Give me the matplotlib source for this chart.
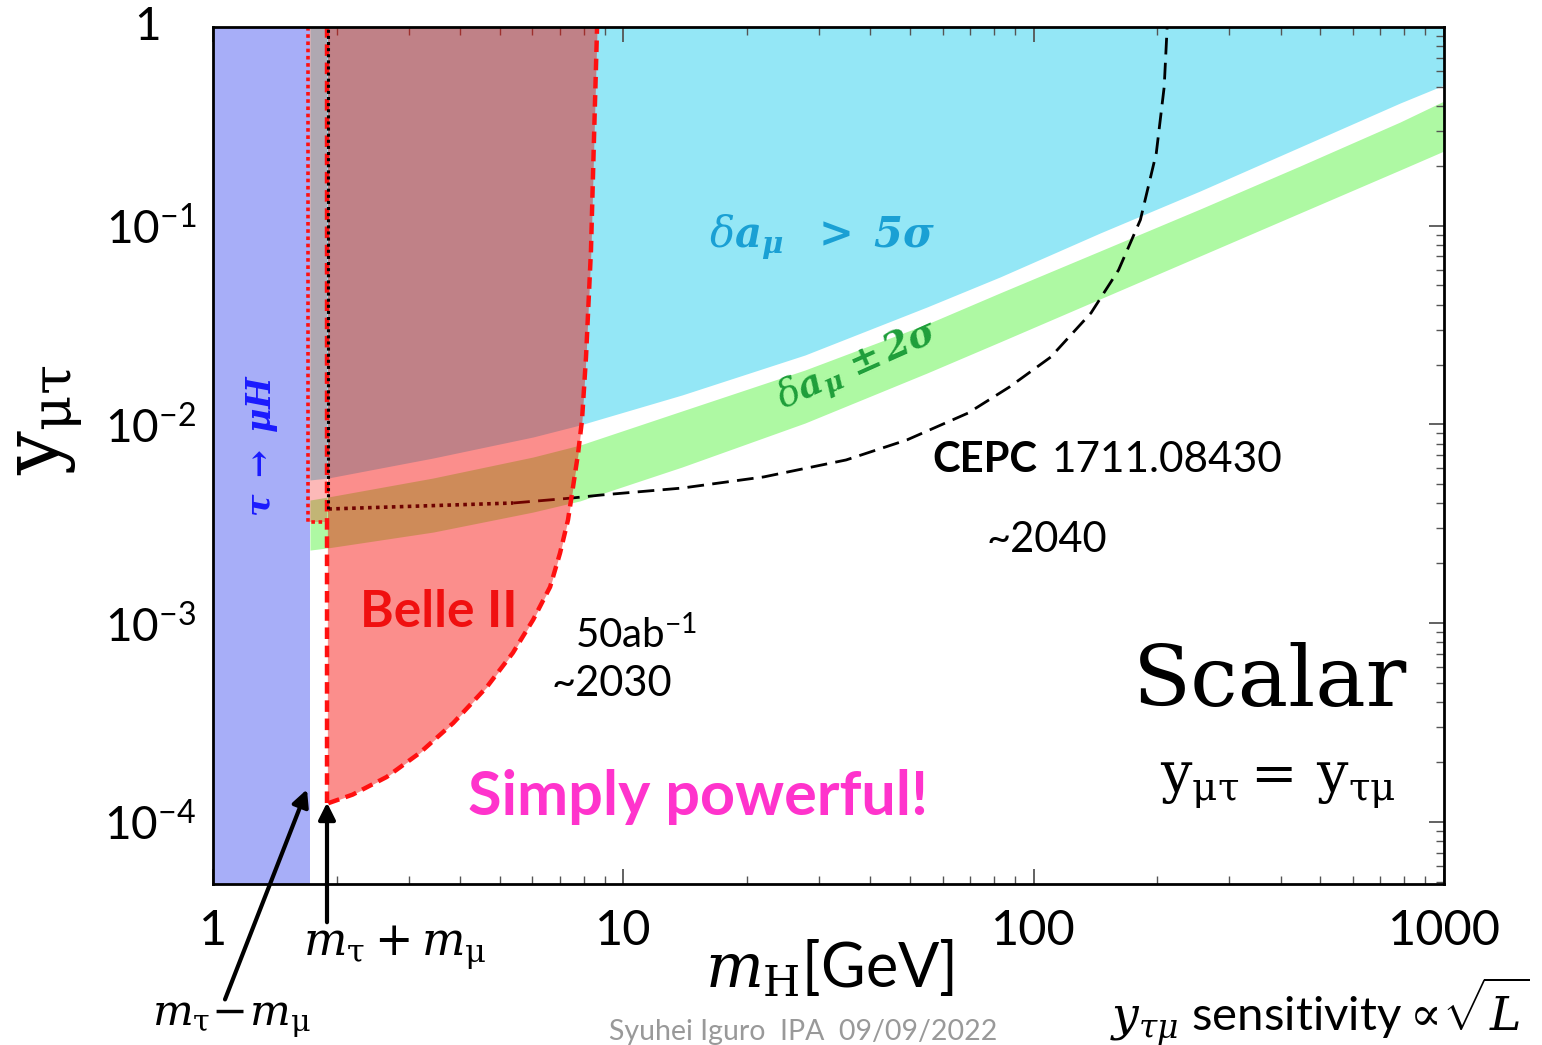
import matplotlib
matplotlib.use("Agg")
import matplotlib.pyplot as plt

plt.rcParams['mathtext.fontset'] = 'custom'
plt.rcParams['mathtext.rm'] = 'DejaVu Serif'
plt.rcParams['mathtext.it'] = 'DejaVu Serif:italic'
plt.rcParams['mathtext.bf'] = 'DejaVu Serif:bold:italic'
plt.rcParams['mathtext.sf'] = 'Lato'
plt.rcParams['font.family'] = ['Lato', 'DejaVu Sans']

# ---------------- data ----------------
x_ticks = [1, 10, 100, 1000]
x_tick_labels = ['1', '10', '100', '1000']
y_ticks = [1e-4, 1e-3, 1e-2, 1e-1]
y_tick_labels = [r'$\mathsf{10^{-4}}$', r'$\mathsf{10^{-3}}$', r'$\mathsf{10^{-2}}$', r'$\mathsf{10^{-1}}$']

tau_muH_limit = 1.72          # m_tau - m_mu  (blue region edge)
belle_threshold = 1.90        # m_tau + m_mu
strip_left = 1.70
strip_bottom = 3.23e-3

mass_grid = [1.723, 1.907, 3.438, 6.025, 7.844, 13.90, 27.72, 54.99, 82.8, 145.2, 254.4, 446.0, 781.7, 1000]
g2_5sigma_lower = [5.25e-3, 5.37e-3, 6.77e-3, 8.64e-3, 9.93e-3, 0.01406, 0.02235, 0.0390, 0.0552, 0.0919,
                   0.1495, 0.2489, 0.4144, 0.5105]
g2_2sigma_upper = [4.16e-3, 4.31e-3, 5.37e-3, 6.85e-3, 7.87e-3, 0.01168, 0.01878, 0.0320, 0.0459, 0.0746,
                   0.1213, 0.1998, 0.3325, 0.4242]
g2_2sigma_lower = [2.33e-3, 2.39e-3, 2.87e-3, 3.62e-3, 4.12e-3, 6.10e-3, 0.01016, 0.01814, 0.0260, 0.0428,
                   0.0704, 0.1159, 0.1907, 0.2377]

belle_y = [1.24e-4, 1.37e-4, 1.68e-4, 2.22e-4, 3.14e-4, 4.77e-4, 7.08e-4, 1.04e-3, 1.52e-3, 2.25e-3,
           3.30e-3, 4.84e-3, 7.18e-3, 1.05e-2, 0.0218, 0.0755, 0.27, 1.0]
belle_x = [1.91, 2.19, 2.65, 3.19, 3.85, 4.65, 5.38, 6.03, 6.63, 7.01,
           7.33, 7.54, 7.76, 7.93, 8.11, 8.34, 8.48, 8.63]

cepc_flat_x = [1.91, 5.39]
cepc_flat_y = [3.75e-3, 4.02e-3]
cepc_x = [5.39, 7.50, 8.83, 13.9, 22.0, 34.9, 49.1, 69.2, 87.2, 110, 138, 161, 182, 199, 208, 211.5]
cepc_y = [4.02e-3, 4.26e-3, 4.41e-3, 4.78e-3, 5.44e-3, 6.62e-3, 8.35e-3, 0.0114, 0.0154, 0.0218,
          0.0364, 0.0598, 0.107, 0.232, 0.499, 1.0]

# ---------------- figure ----------------
W, H = 1542, 1045
fig = plt.figure(figsize=(W / 100, H / 100), dpi=100)
L, R, T, B = 213, 1444, 27, 884
ax = fig.add_axes([L / W, 1 - B / H, (R - L) / W, (B - T) / H])
ax.set_xscale('log')
ax.set_yscale('log')
ax.set_xlim(1, 1000)
ax.set_ylim(4.86e-5, 1)

red = '#f70500'
ax.fill_between(mass_grid, g2_5sigma_lower, 1.0, color='#94e7f6', lw=0, zorder=1)
ax.fill_between(mass_grid, g2_2sigma_lower, g2_2sigma_upper, color='#aef9a3', lw=0, zorder=1)
ax.plot(cepc_flat_x, cepc_flat_y, color='black', lw=2.6, ls=(0, (1, 1.2)), zorder=2)
ax.plot(cepc_x, cepc_y, color='black', lw=2.0, ls=(0, (6, 3)), zorder=2)
ax.fill_between([strip_left, belle_threshold], strip_bottom, 1.0, color=red, alpha=0.28, lw=0, zorder=3)
ax.fill_betweenx(belle_y, belle_threshold, belle_x, color=red, alpha=0.45, lw=0, zorder=3)
ax.axvspan(1, tau_muH_limit, color='#a7aef8', lw=0, zorder=4)
ax.plot(belle_x, belle_y, color='#ff1010', lw=3.2, ls=(0, (2.6, 1.5)), zorder=6)
ax.plot([belle_threshold, belle_threshold], [belle_y[0], 1.0], color='#ff1010', lw=3.2,
        ls=(0, (2.6, 1.5)), zorder=6)
ax.plot([strip_left, strip_left, belle_threshold], [1.0, strip_bottom, strip_bottom],
        color='#ff1010', lw=2.6, ls=(0, (1, 1)), zorder=6)
ax.plot([cepc_flat_x[0], cepc_flat_x[0]], [cepc_flat_y[0], 1.0], color='black', lw=2.2,
        ls=(0, (1, 1)), zorder=6)

# ticks
ax.set_xticks(x_ticks)
ax.set_xticklabels(x_tick_labels)
ax.set_yticks(y_ticks)
ax.set_yticklabels(y_tick_labels)
ax.tick_params(which='both', direction='in', top=True, right=True, color='#555555')
ax.tick_params(which='major', length=11, width=1.3)
ax.tick_params(which='minor', length=6, width=1.0)
ax.tick_params(axis='x', which='major', labelsize=35, pad=18)
ax.tick_params(axis='y', which='major', labelsize=33, pad=12)
for s in ax.spines.values():
    s.set_linewidth(2)
    s.set_color('black')
    s.set_zorder(10)
ax.text(-0.0528, 1.0, '1', transform=ax.transAxes, ha='center', va='center', fontsize=33)

# annotations inside axes
tA = ax.transAxes
ax.text(0.495, 0.755, r'$\delta\mathbf{a}_{\mathbf{\mu}}\ \ \mathbf{>\ 5\sigma}$', transform=tA,
        ha='center', va='center', fontsize=30, color='#1aa0d4', zorder=8)
ax.text(0.524, 0.604, r'$\delta\mathbf{a}_{\mathbf{\mu}}\ \mathbf{\pm\,2\sigma}$', transform=tA,
        ha='center', va='center', fontsize=27, color='#1e9e3a', rotation=24, zorder=8)
ax.text(0.040, 0.512, r'$\mathbf{\tau\ \rightarrow\ \mu}\mathrm{\mathbf{H}}$', transform=tA,
        ha='center', va='center', fontsize=24, color='#1a1aff', rotation=90, zorder=8)
ax.text(0.183, 0.317, 'Belle II', transform=tA, ha='center', va='center', fontsize=37,
        fontweight='bold', color='#f01010', zorder=8)
ax.text(0.294, 0.291, r'50ab$^{\mathsf{-1}}$', transform=tA, ha='left', va='center', fontsize=29, zorder=8)
ax.text(0.275, 0.233, '~2030', transform=tA, ha='left', va='center', fontsize=30, zorder=8)
ax.text(0.584, 0.495, 'CEPC', transform=tA, ha='left', va='center', fontsize=30,
        fontweight='bold', zorder=8)
ax.text(0.681, 0.495, '1711.08430', transform=tA, ha='left', va='center', fontsize=30.5, zorder=8)
ax.text(0.6775, 0.401, '~2040', transform=tA, ha='center', va='center', fontsize=30, zorder=8)
ax.text(0.859, 0.234, 'Scalar', transform=tA, ha='center', va='center', fontsize=61,
        family='DejaVu Serif', zorder=8)
ax.text(0.865, 0.115, r'$\mathrm{y_{\mu\tau}{=}\,y_{\tau\mu}}$', transform=tA, ha='center',
        va='center', fontsize=40, zorder=8)
ax.text(0.394, 0.101, 'Simply powerful!', transform=tA, ha='center', va='center', fontsize=44,
        fontweight='bold', color='#ff33cc', zorder=8)

# labels outside
fig.text(0.0324, 0.598, r'$\mathrm{y_{\mu\tau}}$', rotation=90, ha='center', va='center', fontsize=56)
fig.text(0.538, 0.0737, r'$m_{\mathrm{H}}$[GeV]', ha='center', va='center', fontsize=44)
fig.text(0.150, 0.024, r'$m_{\mathrm{\tau}}\!-\!m_{\mathrm{\mu}}$', ha='center', va='center', fontsize=31)
fig.text(0.256, 0.093, r'$m_{\mathrm{\tau}}+m_{\mathrm{\mu}}$', ha='center', va='center', fontsize=33)
fig.text(0.521, 0.0124, 'Syuhei Iguro  IPA  09/09/2022', ha='center', va='center', fontsize=20.5,
         color='#999999')
fig.text(0.856, 0.0316, r'$y_{\tau\mu}$ sensitivity$\propto\!\sqrt{L}$', ha='center', va='center',
         fontsize=34)

# arrows
for tip, tail in [((1.704, 1.50e-4), (224 / W, 1 - 1002 / H)),
                  ((1.896, 1.29e-4), (327 / W, 1 - 925 / H))]:
    ax.annotate('', xy=tip, xycoords='data', xytext=tail, textcoords='figure fraction',
                annotation_clip=False, zorder=12,
                arrowprops=dict(arrowstyle='-|>', lw=3, color='black', mutation_scale=25))

fig.savefig('out.png', dpi=100)
